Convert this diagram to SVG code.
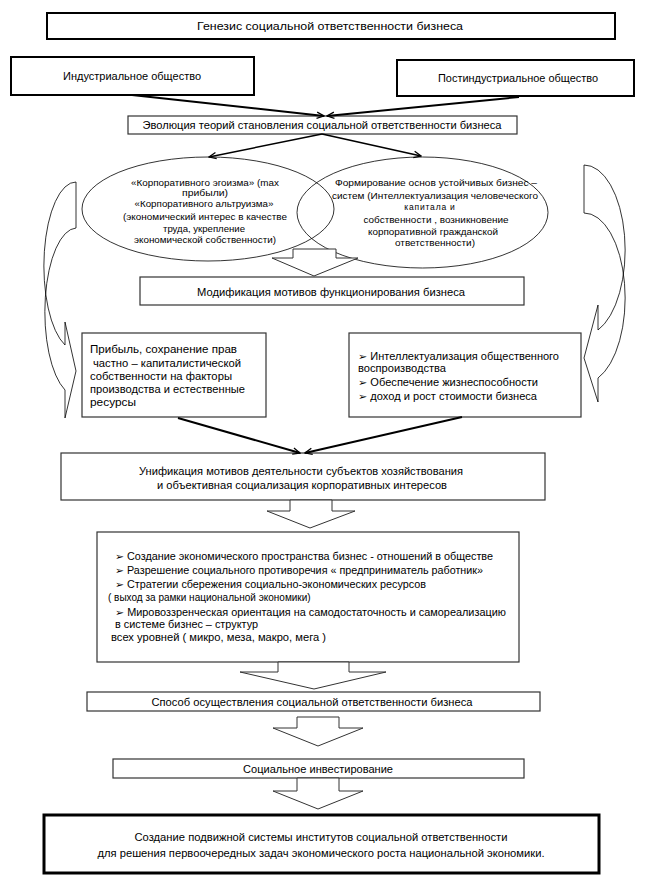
<svg xmlns="http://www.w3.org/2000/svg" width="666" height="890" viewBox="0 0 666 890">
<defs>
<style>
.b{fill:#fff;stroke:#333;stroke-width:1.2}
.bt{fill:#fff;stroke:#000;stroke-width:2}
.bf{fill:#fff;stroke:#000;stroke-width:3}
.t{font-family:"Liberation Sans",Arial,"DejaVu Sans",sans-serif;font-size:10px;fill:#000}
.s{font-size:8.5px}
.c{text-anchor:middle}
.e{fill:none;stroke:#000;stroke-width:0.8}
.ha{fill:#fff;stroke:#333;stroke-width:1}
.ca{fill:#fff;stroke:#000;stroke-width:0.8}
.ln{stroke:#000;stroke-width:2;fill:none;marker-end:url(#ah)}
.lt{stroke:#000;stroke-width:1.5;fill:none;marker-end:url(#ah)}
</style>
<marker id="ah" viewBox="0 0 10 10" refX="9" refY="5" markerWidth="9" markerHeight="9" markerUnits="userSpaceOnUse" orient="auto">
<path d="M1,1.5 L9,5 L1,8.5" fill="none" stroke="#000" stroke-width="1.4"/>
</marker>
</defs>

<g id="title">
<rect class="bt" x="47" y="13" width="568" height="26"/>
<text class="t c" x="330" y="30" font-size="11" textLength="266" lengthAdjust="spacingAndGlyphs">Генезис социальной ответственности бизнеса</text>
</g>

<g id="industrial">
<rect class="bt" x="11" y="57" width="243" height="38"/>
<text class="t c" x="132" y="80" textLength="138" lengthAdjust="spacingAndGlyphs">Индустриальное общество</text>
</g>

<g id="postindustrial">
<rect class="bt" x="397" y="60" width="237" height="36"/>
<text class="t c" x="518" y="82" textLength="160" lengthAdjust="spacingAndGlyphs">Постиндустриальное общество</text>
</g>

<g id="evolution">
<rect class="b" x="128" y="116" width="389" height="18"/>
<text class="t c" x="322" y="129" textLength="359" lengthAdjust="spacingAndGlyphs">Эволюция теорий становления социальной ответственности бизнеса</text>
</g>

<g id="ellipse-left">
<ellipse class="e" cx="208" cy="209" rx="126" ry="52"/>
<text class="t s c" x="205" y="186" textLength="148" lengthAdjust="spacingAndGlyphs">«Корпоративного эгоизма» (max</text>
<text class="t s c" x="205" y="196" textLength="46" lengthAdjust="spacingAndGlyphs">прибыли)</text>
<text class="t s c" x="204" y="207" textLength="139" lengthAdjust="spacingAndGlyphs">«Корпоративного альтруизма»</text>
<text class="t s c" x="205" y="220" textLength="164" lengthAdjust="spacingAndGlyphs">(экономический интерес в качестве</text>
<text class="t s c" x="204" y="232" textLength="82" lengthAdjust="spacingAndGlyphs">труда, укрепление</text>
<text class="t s c" x="205" y="243" textLength="142" lengthAdjust="spacingAndGlyphs">экономической собственности)</text>
</g>

<g id="ellipse-right">
<ellipse class="e" cx="422.5" cy="212.5" rx="125.5" ry="55.5"/>
<text class="t s c" x="436" y="186" textLength="202" lengthAdjust="spacingAndGlyphs">Формирование основ устойчивых бизнес –</text>
<text class="t s c" x="435" y="199" textLength="206" lengthAdjust="spacingAndGlyphs">систем  (Интеллектуализация человеческого</text>
<text class="t s c" x="430" y="210" letter-spacing="0.8">капитала и</text>
<text class="t s c" x="436" y="223" textLength="145" lengthAdjust="spacingAndGlyphs">собственности , возникновение</text>
<text class="t s c" x="433" y="235" textLength="130" lengthAdjust="spacingAndGlyphs">корпоративной гражданской</text>
<text class="t s c" x="435" y="246" textLength="80" lengthAdjust="spacingAndGlyphs">ответственности)</text>
</g>

<g id="modification">
<rect class="b" x="140" y="277" width="384" height="28"/>
<text class="t c" x="331" y="295.5" textLength="268" lengthAdjust="spacingAndGlyphs">Модификация мотивов функционирования бизнеса</text>
</g>

<g id="profit">
<rect class="b" x="82" y="333" width="184" height="84"/>
<text class="t" x="90" y="353" textLength="147" lengthAdjust="spacingAndGlyphs">Прибыль, сохранение прав</text>
<text class="t" x="93" y="366.5" textLength="148" lengthAdjust="spacingAndGlyphs">частно – капиталистической</text>
<text class="t" x="90" y="380" textLength="142" lengthAdjust="spacingAndGlyphs">собственности на факторы</text>
<text class="t" x="90" y="393" textLength="155" lengthAdjust="spacingAndGlyphs">производства и естественные</text>
<text class="t" x="90" y="406" textLength="46" lengthAdjust="spacingAndGlyphs">ресурсы</text>
</g>

<g id="intellect">
<rect class="b" x="349" y="333" width="232" height="84"/>
<text class="t" x="358" y="359.5" textLength="201" lengthAdjust="spacingAndGlyphs">➢ Интеллектуализация общественного</text>
<text class="t" x="358" y="371.5" textLength="88" lengthAdjust="spacingAndGlyphs">воспроизводства</text>
<text class="t" x="358" y="385.5" textLength="180" lengthAdjust="spacingAndGlyphs">➢ Обеспечение жизнеспособности</text>
<text class="t" x="358" y="399.5" textLength="179" lengthAdjust="spacingAndGlyphs">➢ доход и рост стоимости бизнеса</text>
</g>

<g id="unification">
<rect class="b" x="61" y="453" width="484" height="47"/>
<text class="t c" x="301" y="474.5" textLength="324" lengthAdjust="spacingAndGlyphs">Унификация мотивов деятельности субъектов хозяйствования</text>
<text class="t c" x="302" y="488.5" textLength="290" lengthAdjust="spacingAndGlyphs">и объективная социализация корпоративных интересов</text>
</g>

<g id="bullets">
<rect class="b" x="97" y="532" width="422" height="130"/>
<text class="t" x="115" y="559.5" textLength="378" lengthAdjust="spacingAndGlyphs">➢ Создание экономического пространства бизнес - отношений  в обществе</text>
<text class="t" x="115" y="573.5" textLength="368" lengthAdjust="spacingAndGlyphs">➢ Разрешение социального противоречия « предприниматель работник»</text>
<text class="t" x="115" y="587.5" textLength="311" lengthAdjust="spacingAndGlyphs">➢ Стратегии сбережения социально-экономических ресурсов</text>
<text class="t" x="108" y="600.5">( выход за рамки национальной экономики)</text>
<text class="t" x="115" y="615.5" textLength="391" lengthAdjust="spacingAndGlyphs">➢ Мировоззренческая ориентация на самодостаточность и самореализацию</text>
<text class="t" x="115" y="627.5" textLength="143" lengthAdjust="spacingAndGlyphs">в системе бизнес – структур</text>
<text class="t" x="111" y="640.5" textLength="215" lengthAdjust="spacingAndGlyphs">всех уровней ( микро, меза, макро, мега )</text>
</g>

<g id="method">
<rect class="b" x="87" y="692" width="453" height="19"/>
<text class="t c" x="312" y="706" textLength="321" lengthAdjust="spacingAndGlyphs">Способ осуществления социальной ответственности бизнеса</text>
</g>

<g id="investment">
<rect class="b" x="113" y="759" width="411" height="19"/>
<text class="t c" x="318" y="772.5" textLength="150" lengthAdjust="spacingAndGlyphs">Социальное инвестирование</text>
</g>

<g id="result">
<rect class="bf" x="44" y="815" width="555" height="58"/>
<text class="t c" x="321" y="840.5" textLength="373" lengthAdjust="spacingAndGlyphs">Создание подвижной системы институтов социальной ответственности</text>
<text class="t c" x="321" y="856.5" textLength="447" lengthAdjust="spacingAndGlyphs">для решения первоочередных задач экономического роста национальной экономики.</text>
</g>

<g id="connectors">
<line class="ln" x1="132" y1="95" x2="324" y2="116"/>
<line class="ln" x1="519" y1="97" x2="327" y2="116"/>
<line class="lt" x1="322" y1="134" x2="209" y2="157"/>
<line class="lt" x1="322" y1="134" x2="421" y2="156"/>
<line class="ln" x1="178" y1="418" x2="300" y2="453"/>
<line class="ln" x1="462" y1="417" x2="305" y2="453"/>
<path class="ha" d="M293,249 L336,249 L336,258 L358,258 L314,276 L272,258 L293,258 Z"/>
<path class="ha" d="M290,500 L332,500 L332,511 L355,511 L310,528 L267,511 L290,511 Z"/>
<path class="ha" d="M278,662 L349,662 L349,672 L386,672 L314,689 L240,672 L278,672 Z"/>
<path class="ha" d="M297,717 L339,717 L339,728 L363,728 L318,746 L273,728 L297,728 Z"/>
<path class="ha" d="M297,778 L339,778 L339,791 L363,791 L318,809 L273,791 L297,791 Z"/>
<path class="ca" d="M76,182 A32,84 0 0 0 65,345 L65,322 L76,371 L65,418 L65,390 A32,84 0 0 1 76,228 Z"/>
<path class="ca" d="M584,165 A41,85 0 0 1 598,330 L598,305 L584,358 L598,402 L598,378 A41,85 0 0 0 584,213 Z"/>
</g>
</svg>
